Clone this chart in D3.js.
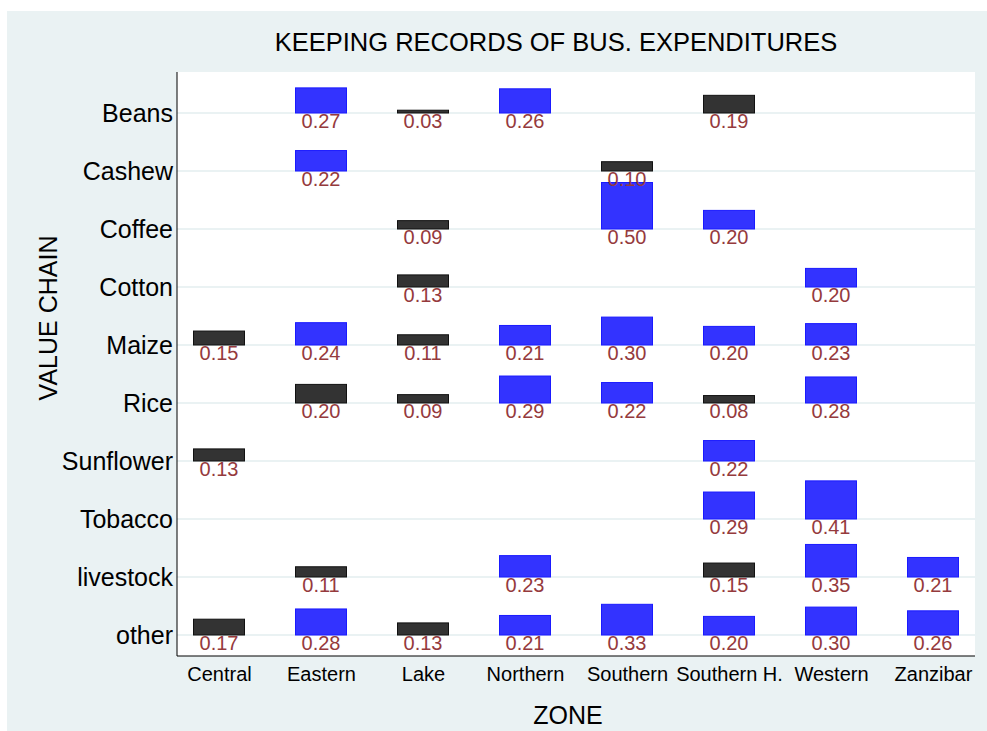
<!DOCTYPE html>
<html>
<head>
<meta charset="utf-8">
<script src="https://cdn.jsdelivr.net/npm/d3@7"></script>
<style>
  body { margin: 0; background: #fff; }
  text { font-family: "Liberation Sans", Arial, Helvetica, sans-serif; }
</style>
</head>
<body>
<div id="main"></div>
<script>
/// data ///
const zones = ['Central', 'Eastern', 'Lake', 'Northern', 'Southern', 'Southern H.', 'Western', 'Zanzibar'];
const chains = ['Beans', 'Cashew', 'Coffee', 'Cotton', 'Maize', 'Rice', 'Sunflower', 'Tobacco', 'livestock', 'other'];

// share per zone, in chain order (null = no bar)
const central   = [null, null, null, null, 0.15, null, 0.13, null, null, 0.17];
const eastern   = [0.27, 0.22, null, null, 0.24, 0.20, null, null, 0.11, 0.28];
const lake      = [0.03, null, 0.09, 0.13, 0.11, 0.09, null, null, null, 0.13];
const northern  = [0.26, null, null, null, 0.21, 0.29, null, null, 0.23, 0.21];
const southern  = [null, 0.10, 0.50, null, 0.30, 0.22, null, null, null, 0.33];
const southernH = [0.19, null, 0.20, null, 0.20, 0.08, 0.22, 0.29, 0.15, 0.20];
const western   = [null, null, null, 0.20, 0.23, 0.28, null, 0.41, 0.35, 0.30];
const zanzibar  = [null, null, null, null, null, null, null, null, 0.21, 0.26];

// bars drawn dark instead of blue
const darkBars = [
    'Central|Maize', 'Central|Sunflower', 'Central|other',
    'Eastern|Rice', 'Eastern|livestock',
    'Lake|Beans', 'Lake|Coffee', 'Lake|Cotton', 'Lake|Maize', 'Lake|Rice', 'Lake|other',
    'Southern|Cashew',
    'Southern H.|Beans', 'Southern H.|Rice', 'Southern H.|livestock'
];

const zoneValues = [central, eastern, lake, northern, southern, southernH, western, zanzibar];

let cells = [];
zoneValues.forEach((arr, zi) => {
    arr.forEach((v, ci) => {
        if (v !== null) {
            let zone = zones[zi], chain = chains[ci];
            cells.push({ zone: zone, chain: chain, value: v, dark: darkBars.includes(zone + '|' + chain) });
        }
    });
});

/// chart ///
const w = 987;
const h = 731;
const plot = { left: 177, right: 975, top: 72, bottom: 656 };

let svg = d3.select('#main')
        .append('svg')
        .attr('width', w)
        .attr('height', h);

// outer background
svg.append('rect')
    .attr('x', 7).attr('y', 11)
    .attr('width', w - 7).attr('height', h - 11)
    .attr('fill', '#eaf2f3');

// plot area
svg.append('rect')
    .attr('x', plot.left).attr('y', plot.top)
    .attr('width', plot.right - plot.left).attr('height', plot.bottom - plot.top)
    .attr('fill', '#fff');

let xScale = d3.scalePoint()
        .domain(zones)
        .range([219, 933]);

let yScale = d3.scalePoint()
        .domain(chains)
        .range([113, 635]);

let hScale = d3.scaleLinear()
        .domain([0, 1])
        .range([0, 93]);

const barW = 51;

// gridlines
svg.append('g')
    .selectAll('line')
    .data(chains)
    .enter()
    .append('line')
    .attr('x1', plot.left).attr('x2', plot.right)
    .attr('y1', d => yScale(d)).attr('y2', d => yScale(d))
    .attr('stroke', '#eaf2f3')
    .attr('stroke-width', 2);

// y axis
let yAxis = d3.axisLeft(yScale).tickSize(0).tickPadding(4);
let gy = svg.append('g')
    .attr('transform', 'translate(' + plot.left + ',0)')
    .call(yAxis);
gy.select('.domain').attr('d', 'M0,' + plot.top + 'V' + plot.bottom).attr('stroke', '#000');
gy.selectAll('text').attr('font-size', 25).attr('fill', '#000')
    .attr('font-family', '"Liberation Sans", Arial, sans-serif');

// x axis
let xAxis = d3.axisBottom(xScale).tickSize(0).tickPadding(11);
let gx = svg.append('g')
    .attr('transform', 'translate(0,' + plot.bottom + ')')
    .call(xAxis);
gx.select('.domain').attr('d', 'M' + plot.left + ',0H' + plot.right).attr('stroke', '#000');
gx.selectAll('text').attr('font-size', 20).attr('fill', '#000')
    .attr('font-family', '"Liberation Sans", Arial, sans-serif');

// bars
svg.append('g')
    .selectAll('rect')
    .data(cells)
    .enter()
    .append('rect')
    .attr('x', d => xScale(d.zone) - barW / 2)
    .attr('y', d => yScale(d.chain) - hScale(d.value))
    .attr('width', barW)
    .attr('height', d => hScale(d.value))
    .attr('fill', d => d.dark ? '#333333' : '#3333ff')
    .attr('stroke', d => d.dark ? '#111111' : '#1a1aff')
    .attr('stroke-width', 1);

// value labels
svg.append('g')
    .selectAll('text')
    .data(cells)
    .enter()
    .append('text')
    .attr('x', d => xScale(d.zone))
    .attr('y', d => yScale(d.chain) + 15)
    .attr('text-anchor', 'middle')
    .attr('font-size', 20)
    .attr('fill', '#953a3d')
    .text(d => d.value.toFixed(2));

// title
svg.append('text')
    .attr('x', 556).attr('y', 51)
    .attr('text-anchor', 'middle')
    .attr('font-size', 25.5)
    .text('KEEPING RECORDS OF BUS. EXPENDITURES');

// axis titles
svg.append('text')
    .attr('x', 568).attr('y', 724)
    .attr('text-anchor', 'middle')
    .attr('font-size', 25)
    .text('ZONE');

svg.append('text')
    .attr('transform', 'translate(57,318) rotate(-90)')
    .attr('text-anchor', 'middle')
    .attr('font-size', 25)
    .text('VALUE CHAIN');
</script>
</body>
</html>
